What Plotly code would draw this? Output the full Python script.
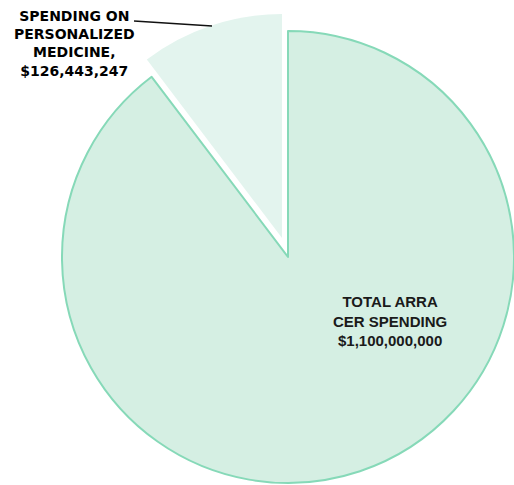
import plotly.graph_objects as go

# Data
categories = ["Total ARRA CER Spending", "Spending on Personalized Medicine"]
values = [1100000000, 126443247]
label_big = "TOTAL ARRA<br>CER SPENDING<br>$1,100,000,000"
label_small = "SPENDING ON<br>PERSONALIZED<br>MEDICINE,<br>$126,443,247"

W, H = 514, 485
BIG_FILL = "#D5EFE3"
BIG_LINE = "#86D9B8"
SMALL_FILL = "#E3F4EE"
CLEAR = "rgba(0,0,0,0)"

def px_x(x):
    return x / W

def px_y(y):
    return 1 - y / H

fig = go.Figure()

# Main (big) slice
fig.add_trace(go.Pie(
    labels=categories, values=values, sort=False, direction="counterclockwise",
    rotation=0, textinfo="none", hoverinfo="label+value", showlegend=False,
    marker=dict(colors=[BIG_FILL, CLEAR], line=dict(color=[BIG_LINE, CLEAR], width=[2, 0])),
    domain=dict(x=[px_x(62), px_x(514)], y=[px_y(483), px_y(31)]),
))

# Exploded (small) slice, shifted up-left
fig.add_trace(go.Pie(
    labels=categories, values=values, sort=False, direction="counterclockwise",
    rotation=0, textinfo="none", hoverinfo="label+value", showlegend=False,
    marker=dict(colors=[CLEAR, SMALL_FILL], line=dict(color=[CLEAR, "white"], width=[0, 0])),
    domain=dict(x=[px_x(58), px_x(506)], y=[px_y(462), px_y(14)]),
))

fig.add_annotation(
    x=px_x(390), y=px_y(321), xref="paper", yref="paper",
    text=label_big, showarrow=False, align="center",
    xanchor="center", yanchor="middle",
    font=dict(family="Liberation Sans, Arial, sans-serif", size=15, color="#1a1a1a", weight="bold"),
)

fig.add_annotation(
    x=px_x(74), y=px_y(43), xref="paper", yref="paper",
    text=label_small, showarrow=False, align="center",
    xanchor="center", yanchor="middle",
    font=dict(family="DejaVu Sans, sans-serif", size=14, color="#000000", weight="bold"),
)

fig.add_shape(
    type="line", xref="paper", yref="paper",
    x0=px_x(134), y0=px_y(21), x1=px_x(212), y1=px_y(26),
    line=dict(color="#111111", width=1.5),
)

fig.update_layout(
    width=W, height=H,
    margin=dict(l=0, r=0, t=0, b=0),
    paper_bgcolor="white", plot_bgcolor="white",
)

fig.write_html("out.html", config={"displayModeBar": False},
               post_script="document.body.style.margin='0px';")
